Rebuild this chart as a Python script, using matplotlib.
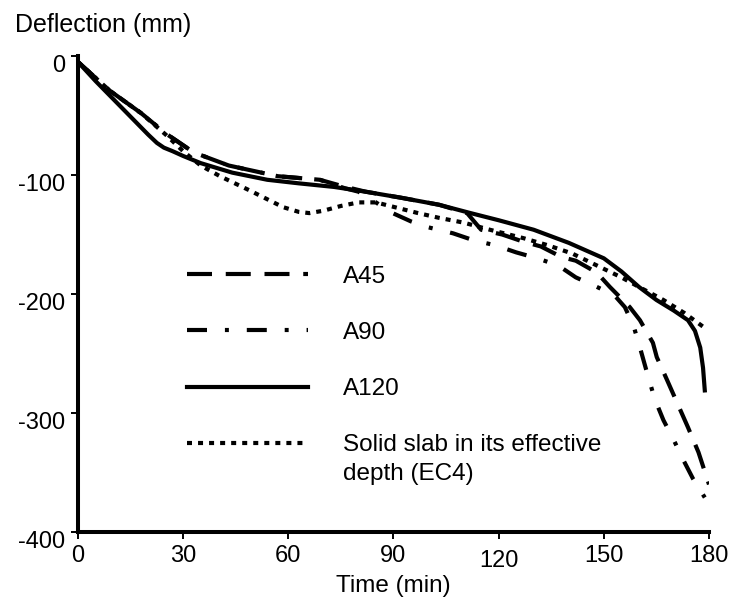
# deflection vs time curves for the slabs, redrawn with matplotlib

import matplotlib.pyplot as plt
from matplotlib.transforms import ScaledTranslation

# A45 (dashed)
t_a45 = [0, 9, 18, 25, 33, 43, 57, 69, 75, 82, 92, 103, 111, 113, 115, 121, 127, 132,
         138, 142, 148, 151.7, 157.4, 160.3, 164, 165.1, 168, 171, 174, 177, 180]
d_a45 = [-5, -29, -48, -65, -81, -92, -101, -104, -109, -114, -119, -125, -132, -139, -146, -150,
         -156, -160, -169, -172, -182, -194, -211, -222, -241, -253, -272, -292, -312, -333, -360]

# A90 (dash-dot)
t_a90 = [0, 9, 18, 25, 33, 43, 57, 69, 76, 80, 84, 89, 95, 100, 107, 113, 119, 125, 131,
         137, 142, 148, 153, 156, 158.5, 160.5, 162.5, 164.5, 167, 170, 172.6, 175.4, 178.8]
d_a90 = [-5, -29, -48, -65, -81, -92, -101, -104, -111, -114, -121, -131, -139, -144, -149, -155,
         -159, -165, -170, -176, -186, -194, -201, -211, -227, -247, -268, -288, -306, -323,
         -339, -355, -371]

# A120 (solid)
t_a120 = [0, 5, 10, 15, 20, 22.5, 24.5, 27, 30, 35, 44, 54, 63, 73, 82, 92, 103, 112, 120,
          130, 140, 150, 155, 160, 165, 170, 174, 176, 177.5, 178.3, 178.8]
d_a120 = [-5, -21, -36, -51, -66, -73, -77, -80, -84, -90, -98, -104, -107, -110, -114, -119,
          -125, -132, -138, -146, -157, -170, -181, -194, -205, -214, -222, -231, -245, -262, -281]

# solid slab in its effective depth, EC4 (dotted)
t_ec4 = [0, 9, 18, 25, 30, 35, 40.5, 49, 58.5, 63, 66, 70, 75, 80, 85, 89, 93, 97, 103, 110,
         117.5, 127, 134, 141, 148, 155, 160, 167, 173, 179.5]
d_ec4 = [-5, -29, -48, -66, -80, -92, -101, -113, -127, -131, -132, -130, -126, -123, -123, -126,
         -129, -132, -136, -140, -146, -153, -159, -166, -176, -186, -194, -205, -216, -230]

x_ticks = [0, 30, 60, 90, 120, 150, 180]
y_ticks = [0, -100, -200, -300, -400]

plt.rcParams['font.family'] = ['Liberation Sans', 'DejaVu Sans']
plt.rcParams['axes.unicode_minus'] = False

fig = plt.figure(figsize=(7.31, 6.03), dpi=100)
ax = fig.add_subplot(111)
fig.subplots_adjust(left=0.1067, right=0.9699, bottom=0.1177, top=0.9071)

lw = 3.0
ax.plot(t_a45, d_a45, color='black', lw=lw, dashes=(6.0, 3.3), label='A45')
ax.plot(t_a90, d_a90, color='black', lw=lw, dashes=(4.8, 4.3, 0.95, 4.3), label='A90')
ax.plot(t_a120, d_a120, color='black', lw=lw, label='A120')
ax.plot(t_ec4, d_ec4, color='black', lw=lw, dashes=(1.2, 1.45),
        label='Solid slab in its effective')

ax.set_xlim(0, 180)
ax.set_ylim(-400, 0)
ax.set_xticks(x_ticks)
ax.set_yticks(y_ticks)

for s in ['top', 'right']:
    ax.spines[s].set_visible(False)
for s in ['left', 'bottom']:
    ax.spines[s].set_linewidth(2.9)

ax.tick_params(axis='both', direction='out', length=5, width=1.4, labelsize=17, color='black')
ax.tick_params(axis='x', pad=4)
ax.tick_params(axis='y', pad=4)

# the 120 label sits a little lower in the original
ax.xaxis.get_major_ticks()[4].set_pad(8)

# y labels sit slightly below their ticks
for tk in ax.yaxis.get_major_ticks():
    tk.label1.set_transform(tk.label1.get_transform()
                            + ScaledTranslation(0, -7 / 100, fig.dpi_scale_trans))

ax.set_xlabel('Time (min)', fontsize=17.5, va='baseline')
ax.xaxis.set_label_coords(0.5, -0.126)
ax.set_ylabel('Deflection (mm)', fontsize=18, rotation=0, ha='left', va='baseline')
ax.yaxis.set_label_coords(-0.1, 1.05)

leg = ax.legend(loc='upper left', bbox_to_anchor=(0.1727, 0.559), frameon=False,
                fontsize=17.5, handlelength=5.0, handletextpad=1.4, labelspacing=1.4,
                borderpad=0, borderaxespad=0)
ax.annotate('depth (EC4)', xy=(0, 0), xycoords=leg.get_texts()[3],
            xytext=(0, -17.3), textcoords='offset points', va='baseline', ha='left',
            fontsize=17.5, zorder=6)

fig.canvas.draw()
plt.savefig('out.png', dpi=100)
